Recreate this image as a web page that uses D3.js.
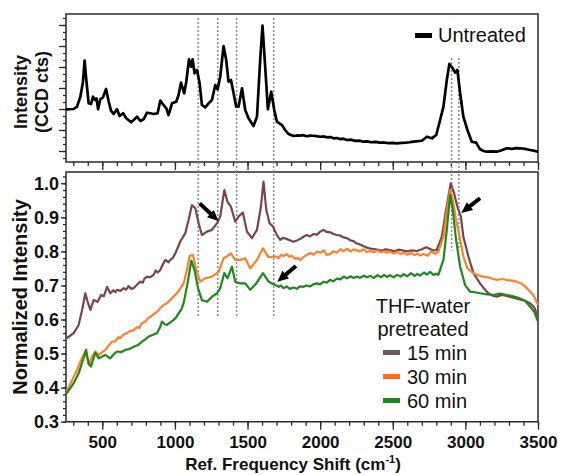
<!DOCTYPE html>
<html>
<head>
<meta charset="utf-8">
<script src="https://cdn.jsdelivr.net/npm/d3@7"></script>
<style>
  body { margin: 0; background: #fff; }
  text { font-family: "Liberation Sans", Arial, sans-serif; }
</style>
</head>
<body>
<svg id="chart" width="561" height="475"></svg>
<script>
// Untreated spectrum [shift cm-1, CCD counts]
const untreated = [[250,8960],[303,9000],[326,9330],[349,10760],[367,12900],[378,15900],[390,13140],[406,9810],[422,9710],[436,10760],[450,10290],[460,10500],[471,8960],[486,10390],[505,10670],[526,11860],[544,10040],[560,8760],[578,8290],[601,8960],[619,8000],[643,8390],[665,7670],[698,7100],[716,7430],[739,7900],[762,7290],[784,7530],[808,8470],[831,8390],[853,8290],[881,8390],[899,10190],[922,9570],[941,9100],[956,8140],[980,9810],[1009,10040],[1025,11000],[1042,12760],[1064,11240],[1078,12860],[1097,16100],[1111,15040],[1122,16100],[1135,14100],[1152,14570],[1170,12670],[1186,9570],[1209,9240],[1232,9810],[1255,10290],[1278,12430],[1294,11810],[1312,13610],[1335,18000],[1353,16000],[1369,12900],[1386,13140],[1404,11240],[1422,9330],[1438,9330],[1462,11960],[1484,8860],[1507,7670],[1541,6570],[1565,7900],[1587,16000],[1603,20900],[1620,15530],[1640,8960],[1663,11470],[1684,8860],[1702,7190],[1737,6710],[1759,6000],[1782,5430],[1817,5140],[1840,5220],[1860,5200],[1885,5260],[1909,5100],[1930,5200],[1950,5180],[1975,5120],[2000,5040],[2025,5080],[2050,4950],[2070,4990],[2092,4810],[2115,4860],[2140,4700],[2160,4760],[2184,4570],[2210,4620],[2240,4450],[2270,4480],[2298,4330],[2325,4380],[2350,4250],[2380,4300],[2413,4190],[2440,4220],[2470,4120],[2500,4170],[2528,4100],[2560,4170],[2590,4200],[2615,4250],[2642,4330],[2700,4470],[2735,5040],[2769,4810],[2799,5290],[2826,7430],[2849,9330],[2872,13140],[2890,15430],[2913,14810],[2929,14190],[2945,14570],[2964,11240],[2986,7900],[3014,6000],[3044,4330],[3074,4190],[3101,3240],[3125,3000],[3147,2900],[3180,2950],[3216,2900],[3250,3100],[3285,3390],[3320,3300],[3350,3420],[3376,3390],[3410,3300],[3445,3140],[3470,3050],[3500,2900]];

// THF-water pretreated, normalized [shift, intensity]
const min15 = [[255,0.545],[303,0.560],[337,0.584],[361,0.628],[383,0.677],[399,0.652],[418,0.628],[440,0.657],[468,0.652],[491,0.672],[510,0.668],[533,0.696],[555,0.677],[575,0.686],[590,0.680],[601,0.687],[625,0.684],[647,0.692],[665,0.688],[681,0.698],[700,0.690],[716,0.692],[740,0.703],[762,0.711],[778,0.708],[790,0.720],[808,0.726],[830,0.724],[853,0.731],[867,0.744],[880,0.738],[899,0.745],[915,0.760],[934,0.775],[955,0.768],[968,0.775],[985,0.781],[1003,0.794],[1037,0.829],[1071,0.853],[1094,0.892],[1117,0.936],[1140,0.927],[1163,0.883],[1186,0.848],[1221,0.858],[1255,0.863],[1290,0.883],[1312,0.902],[1340,0.980],[1362,0.946],[1386,0.931],[1415,0.887],[1438,0.902],[1468,0.914],[1496,0.858],[1530,0.839],[1565,0.863],[1592,0.931],[1610,1.005],[1629,0.922],[1651,0.883],[1675,0.873],[1702,0.848],[1725,0.834],[1745,0.840],[1771,0.836],[1795,0.832],[1815,0.828],[1840,0.832],[1860,0.836],[1885,0.843],[1909,0.848],[1930,0.844],[1955,0.851],[1978,0.849],[2000,0.858],[2023,0.863],[2045,0.857],[2070,0.856],[2092,0.851],[2115,0.848],[2140,0.846],[2160,0.841],[2184,0.839],[2210,0.832],[2230,0.830],[2253,0.823],[2275,0.820],[2300,0.815],[2322,0.811],[2345,0.808],[2370,0.807],[2390,0.805],[2420,0.802],[2450,0.806],[2482,0.804],[2510,0.800],[2540,0.805],[2574,0.802],[2600,0.800],[2630,0.803],[2666,0.801],[2700,0.806],[2730,0.812],[2746,0.809],[2775,0.803],[2803,0.804],[2838,0.843],[2867,0.922],[2899,1.000],[2922,0.971],[2945,0.931],[2969,0.902],[2986,0.843],[3021,0.785],[3055,0.736],[3101,0.706],[3130,0.690],[3158,0.677],[3190,0.670],[3216,0.667],[3250,0.672],[3285,0.669],[3330,0.664],[3376,0.659],[3410,0.655],[3445,0.648],[3475,0.635],[3500,0.608]];
const min30 = [[255,0.388],[292,0.422],[326,0.452],[354,0.481],[383,0.506],[406,0.467],[429,0.491],[452,0.506],[475,0.496],[521,0.511],[545,0.524],[567,0.535],[590,0.536],[610,0.548],[624,0.545],[645,0.556],[670,0.560],[690,0.566],[716,0.569],[740,0.578],[755,0.575],[773,0.589],[800,0.595],[815,0.604],[831,0.608],[855,0.616],[877,0.623],[900,0.634],[922,0.643],[945,0.648],[968,0.657],[990,0.667],[1014,0.677],[1035,0.690],[1060,0.706],[1083,0.745],[1101,0.787],[1124,0.789],[1147,0.745],[1175,0.711],[1209,0.721],[1255,0.726],[1301,0.740],[1335,0.780],[1358,0.785],[1386,0.794],[1415,0.775],[1450,0.775],[1484,0.780],[1519,0.750],[1565,0.775],[1606,0.809],[1645,0.783],[1691,0.785],[1715,0.780],[1730,0.790],[1748,0.786],[1770,0.792],[1790,0.784],[1806,0.787],[1830,0.778],[1850,0.781],[1863,0.774],[1885,0.783],[1910,0.790],[1932,0.795],[1955,0.790],[1980,0.800],[2000,0.796],[2025,0.803],[2045,0.790],[2069,0.792],[2090,0.800],[2115,0.796],[2140,0.806],[2161,0.801],[2185,0.807],[2210,0.800],[2230,0.806],[2253,0.803],[2275,0.800],[2300,0.806],[2320,0.798],[2344,0.801],[2370,0.797],[2395,0.803],[2420,0.797],[2440,0.801],[2459,0.796],[2480,0.800],[2505,0.794],[2530,0.798],[2555,0.792],[2574,0.796],[2600,0.790],[2625,0.795],[2650,0.789],[2670,0.793],[2690,0.788],[2711,0.792],[2740,0.787],[2765,0.800],[2790,0.793],[2814,0.799],[2849,0.843],[2876,0.931],[2895,0.980],[2913,0.951],[2936,0.892],[2964,0.834],[2986,0.785],[3014,0.750],[3055,0.736],[3090,0.730],[3124,0.726],[3170,0.722],[3216,0.716],[3250,0.719],[3285,0.716],[3320,0.714],[3354,0.711],[3390,0.705],[3423,0.692],[3468,0.672],[3500,0.643]];
const min60 = [[255,0.383],[303,0.413],[337,0.442],[367,0.481],[388,0.511],[406,0.472],[422,0.462],[452,0.503],[475,0.486],[521,0.496],[540,0.490],[555,0.486],[580,0.498],[601,0.506],[630,0.504],[659,0.511],[690,0.514],[716,0.520],[745,0.525],[773,0.535],[795,0.542],[819,0.550],[850,0.555],[877,0.560],[895,0.575],[911,0.594],[930,0.586],[945,0.584],[970,0.592],[991,0.599],[1010,0.607],[1025,0.618],[1045,0.630],[1060,0.648],[1087,0.706],[1113,0.773],[1135,0.745],[1159,0.692],[1186,0.657],[1221,0.652],[1255,0.667],[1290,0.677],[1312,0.692],[1340,0.736],[1362,0.721],[1393,0.755],[1415,0.711],[1450,0.706],[1484,0.706],[1519,0.687],[1560,0.706],[1606,0.736],[1645,0.711],[1691,0.701],[1715,0.696],[1730,0.700],[1748,0.692],[1770,0.697],[1790,0.690],[1817,0.694],[1840,0.690],[1860,0.697],[1885,0.696],[1905,0.700],[1930,0.697],[1955,0.704],[1978,0.706],[2000,0.703],[2025,0.711],[2045,0.708],[2069,0.716],[2090,0.712],[2115,0.720],[2140,0.718],[2161,0.726],[2185,0.721],[2210,0.727],[2230,0.722],[2253,0.726],[2275,0.722],[2300,0.729],[2320,0.724],[2344,0.728],[2370,0.722],[2395,0.730],[2420,0.724],[2440,0.731],[2459,0.725],[2480,0.730],[2505,0.724],[2530,0.731],[2555,0.726],[2574,0.733],[2600,0.727],[2625,0.736],[2650,0.728],[2670,0.734],[2688,0.729],[2715,0.738],[2735,0.732],[2757,0.740],[2780,0.731],[2800,0.734],[2814,0.731],[2849,0.775],[2872,0.863],[2895,0.966],[2913,0.922],[2936,0.834],[2964,0.755],[2998,0.701],[3032,0.682],[3065,0.680],[3101,0.677],[3150,0.674],[3193,0.672],[3240,0.676],[3285,0.672],[3330,0.668],[3376,0.662],[3410,0.655],[3445,0.638],[3475,0.622],[3500,0.594]];

const seriesNames = ["15 min", "30 min", "60 min"];
const seriesColors = ["#7a4548", "#ff7f2a", "#1b8a1b"];
const swatchColors = ["#6e5659", "#ff6a12", "#168a16"];

// dotted reference lines (cm-1)
const bandsLeft = [1160, 1295, 1425, 1680];
const bandsRight = [2905, 2955];

// arrows: [tail shift, tail value, head shift, head value]
const arrows = [[1170, 0.941, 1300, 0.889], [3101, 0.956, 2972, 0.913], [1833, 0.757, 1705, 0.711]];

const xTicks = [500, 1000, 1500, 2000, 2500, 3000, 3500];
const yTicks = [0.3, 0.4, 0.5, 0.6, 0.7, 0.8, 0.9, 1.0];

var svg = d3.select("#chart");

var x = d3.scaleLinear().domain([250, 3500]).range([66, 538]);
var yTop = d3.scaleLinear().domain([1430, 22570]).range([162, 14]);
var yBot = d3.scaleLinear().domain([0.3, 1.033]).range([421.7, 172]);

const axisColor = "#2a2a2a";

// ---- top panel axes
svg.append("g").attr("transform", "translate(0,162)")
  .call(d3.axisBottom(x).tickValues(d3.range(300, 3501, 100)).tickSize(4).tickSizeOuter(0).tickFormat(""))
  .call(g => g.select(".domain").remove());
svg.append("g").attr("transform", "translate(0,162)")
  .call(d3.axisBottom(x).tickValues(xTicks).tickSize(8).tickSizeOuter(0).tickFormat(""))
  .call(g => g.select(".domain").remove());
svg.append("g").attr("transform", "translate(66,0)")
  .call(d3.axisLeft(yTop).tickValues(d3.range(2000, 22001, 1000)).tickSize(3).tickFormat(""))
  .call(g => g.select(".domain").remove());
svg.append("g").attr("transform", "translate(66,0)")
  .call(d3.axisLeft(yTop).tickValues(d3.range(3000, 21001, 3000)).tickSize(7).tickFormat(""))
  .call(g => g.select(".domain").remove());
svg.append("path")
  .attr("d", `M${x(250)},${yTop(1430)}V${yTop(22570)}H${x(3500)}V${yTop(1430)}Z`)
  .attr("fill", "none").attr("stroke", axisColor).attr("stroke-width", 1.5);

// ---- bottom panel axes
svg.append("g").attr("transform", "translate(0,421.7)")
  .call(d3.axisBottom(x).tickValues(d3.range(300, 3501, 100)).tickSize(4).tickSizeOuter(0).tickFormat(""))
  .call(g => g.select(".domain").remove());
svg.append("g").attr("class", "xlab").attr("transform", "translate(0,421.7)")
  .call(d3.axisBottom(x).tickValues(xTicks).tickSize(8).tickSizeOuter(0).tickPadding(6).tickFormat(d3.format("d")))
  .call(g => g.select(".domain").remove());
svg.append("g").attr("transform", "translate(66,0)")
  .call(d3.axisLeft(yBot).tickValues(d3.range(0.3, 1.031, 0.02)).tickSize(3).tickFormat(""))
  .call(g => g.select(".domain").remove());
svg.append("g").attr("class", "ylab").attr("transform", "translate(66,0)")
  .call(d3.axisLeft(yBot).tickValues(yTicks).tickSize(5).tickPadding(2).tickFormat(d3.format(".1f")))
  .call(g => g.select(".domain").remove());
svg.append("path")
  .attr("d", `M${x(250)},${yBot(0.3)}V${yBot(1.033)}H${x(3500)}V${yBot(0.3)}Z`)
  .attr("fill", "none").attr("stroke", axisColor).attr("stroke-width", 1.5);

svg.selectAll(".tick line").attr("stroke", axisColor).attr("stroke-width", 1.3);
svg.selectAll(".xlab text, .ylab text")
  .attr("fill", "#111").style("font-size", "17px").style("font-weight", "bold")
  .style("font-family", "'Liberation Sans', Arial, sans-serif");
svg.selectAll(".ylab text").style("font-size", "18px");

// ---- dotted bands
svg.selectAll(".bandL").data(bandsLeft).enter().append("line")
  .attr("x1", d => x(d)).attr("x2", d => x(d))
  .attr("y1", yTop(22000)).attr("y2", yBot(0.605))
  .attr("stroke", "#8a8a8a").attr("stroke-width", 1.5).attr("stroke-dasharray", "2,2");
svg.selectAll(".bandR").data(bandsRight).enter().append("line")
  .attr("x1", d => x(d)).attr("x2", d => x(d))
  .attr("y1", yTop(16300)).attr("y2", yBot(0.802))
  .attr("stroke", "#8a8a8a").attr("stroke-width", 1.5).attr("stroke-dasharray", "2,2");

// ---- spectra
var lineTop = d3.line().x(d => x(d[0])).y(d => yTop(d[1]));
svg.append("path").datum(untreated)
  .attr("d", lineTop).attr("fill", "none").attr("stroke", "#000")
  .attr("stroke-width", 2.7).attr("stroke-linejoin", "round");

var lineBot = d3.line().x(d => x(d[0])).y(d => yBot(d[1]));
[min15, min30, min60].forEach(function(s, i) {
  svg.append("path").datum(s)
    .attr("d", lineBot).attr("fill", "none").attr("stroke", seriesColors[i])
    .attr("stroke-width", 2.2).attr("stroke-linejoin", "round");
});

// ---- arrows
arrows.forEach(function(a) {
  var x0 = x(a[0]), y0 = yBot(a[1]), x1 = x(a[2]), y1 = yBot(a[3]);
  var dx = x1 - x0, dy = y1 - y0, len = Math.sqrt(dx * dx + dy * dy);
  var ux = dx / len, uy = dy / len, nx = -uy, ny = ux;
  var hl = 11, hw = 5, sw = 2;
  var bx = x1 - ux * hl, by = y1 - uy * hl;
  var pts = [
    [x0 + nx * sw, y0 + ny * sw], [bx + nx * sw, by + ny * sw], [bx + nx * hw, by + ny * hw],
    [x1, y1], [bx - nx * hw, by - ny * hw], [bx - nx * sw, by - ny * sw], [x0 - nx * sw, y0 - ny * sw]
  ];
  svg.append("polygon").attr("points", pts.map(p => p.join(",")).join(" ")).attr("fill", "#000");
});

// ---- legends
svg.append("rect").attr("x", 415).attr("y", 33).attr("width", 17).attr("height", 5).attr("fill", "#000");
svg.append("text").attr("x", 438).attr("y", 42).style("font-size", "20px").attr("fill", "#111").text("Untreated");

svg.append("text").attr("x", 423).attr("y", 313).attr("text-anchor", "middle")
  .style("font-size", "20px").attr("fill", "#111").text("THF-water");
svg.append("text").attr("x", 423).attr("y", 336).attr("text-anchor", "middle")
  .style("font-size", "20px").attr("fill", "#111").text("pretreated");
seriesNames.forEach(function(n, i) {
  var yy = 360 + i * 24;
  svg.append("rect").attr("x", 383).attr("y", yy - 10).attr("width", 17).attr("height", 5)
    .attr("fill", swatchColors[i]);
  svg.append("text").attr("x", 407).attr("y", yy).style("font-size", "20px").attr("fill", "#111").text(n);
});

// ---- axis titles
svg.append("text").attr("transform", "translate(27,297) rotate(-90)").attr("text-anchor", "middle")
  .style("font-size", "20px").style("font-weight", "bold").attr("fill", "#111").text("Normalized Intensity");
svg.append("text").attr("transform", "translate(27,92) rotate(-90)").attr("text-anchor", "middle")
  .style("font-size", "18px").style("font-weight", "bold").attr("fill", "#111").text("Intensity");
svg.append("text").attr("transform", "translate(48,92) rotate(-90)").attr("text-anchor", "middle")
  .style("font-size", "18px").style("font-weight", "bold").attr("fill", "#111").text("(CCD cts)");

var xt = svg.append("text").attr("x", 293).attr("y", 470).attr("text-anchor", "middle")
  .style("font-size", "17px").style("font-weight", "bold").attr("fill", "#111");
xt.append("tspan").text("Ref. Frequency Shift (cm");
xt.append("tspan").attr("dy", -7).style("font-size", "11px").text("-1");
xt.append("tspan").attr("dy", 7).text(")");
</script>
</body>
</html>
